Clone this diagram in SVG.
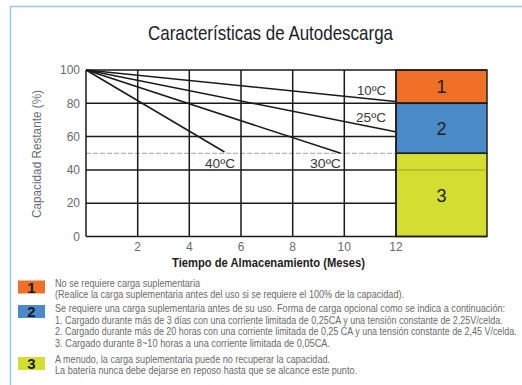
<svg xmlns="http://www.w3.org/2000/svg" width="522" height="385" viewBox="0 0 522 385">
<style>
.t{font-family:"Liberation Sans Narrow","Liberation Sans",Arial,sans-serif}
.n{font-family:"Liberation Sans",Arial,sans-serif}
.tick{font-size:12px;fill:#666a72}
.grid{stroke:#1a1a1a;stroke-width:1.5;fill:none}
.curve{stroke:#1a1a1a;stroke-width:1.5;fill:none}
.temp{font-size:13px;fill:#3a3a3a}
.leg{font-size:10.5px;fill:#6a6a6a}
.num{font-size:15px;font-weight:bold;fill:#1a1a1a;text-anchor:middle}
.box{stroke:#222;stroke-width:1.5}
</style>
<rect width="522" height="385" fill="#fff"/>
<rect x="10.5" y="6.5" width="600" height="500" fill="none" stroke="#9cc8ec" stroke-width="1.5"/>
<text id="title" class="t" x="148" y="40" font-size="21" fill="#1c1c2c" textLength="245" lengthAdjust="spacingAndGlyphs">Características de Autodescarga</text>

<g id="zones">
<g id="zone1"><rect class="box" x="396" y="70" width="91" height="33.3" fill="#F07028"/><text class="n" x="441.5" y="93" font-size="18" fill="#222" text-anchor="middle">1</text></g>
<g id="zone2"><rect class="box" x="396" y="103.3" width="91" height="50" fill="#4A8AC8"/><text class="n" x="441.5" y="135" font-size="18" fill="#222" text-anchor="middle">2</text></g>
<g id="zone3"><rect class="box" x="396" y="153.3" width="91" height="83.2" fill="#D4DE32"/><line x1="396" y1="169.9" x2="487" y2="169.9" stroke="#8a9020" stroke-width="1.5" opacity="0.5"/><text class="n" x="441.5" y="201.5" font-size="18" fill="#222" text-anchor="middle">3</text></g>
</g>

<g id="axes">
<line x1="86" y1="153.3" x2="396" y2="153.3" stroke="#b4b4b4" stroke-width="1.2" stroke-dasharray="5 2"/>
<path class="grid" d="M86,70V236.5M137.7,70V236.5M189.3,70V236.5M241,70V236.5M292.7,70V236.5M344.3,70V236.5M396,70V236.5M86,70H487M86,103.3H487M86,136.6H396M86,169.9H396M86,203.2H396M86,236.5H487"/>
<g class="n tick" text-anchor="end">
<text x="80" y="74">100</text>
<text x="80" y="107.5">80</text>
<text x="80" y="140.8">60</text>
<text x="80" y="174.1">40</text>
<text x="80" y="207.4">20</text>
<text x="80" y="240.7">0</text>
</g>
<g class="n tick" text-anchor="middle">
<text x="137.7" y="250.5">2</text>
<text x="189.3" y="250.5">4</text>
<text x="241" y="250.5">6</text>
<text x="292.7" y="250.5">8</text>
<text x="344.3" y="250.5">10</text>
<text x="396" y="250.5">12</text>
</g>
<text class="n" transform="translate(41,154) rotate(-90)" font-size="12.5" fill="#666a72" text-anchor="middle" textLength="128" lengthAdjust="spacingAndGlyphs">Capacidad Restante (%)</text>
<text class="t" x="268.5" y="266.5" font-size="13" font-weight="bold" fill="#222" text-anchor="middle" textLength="193" lengthAdjust="spacingAndGlyphs">Tiempo de Almacenamiento (Meses)</text>
</g>

<g id="connectors">
<path id="c10" class="curve" d="M86,70L395.5,101.5"/>
<path id="c25" class="curve" d="M86,70L395.5,131.7"/>
<path id="c30" class="curve" d="M86,70L340.7,153.3"/>
<path id="c40" class="curve" d="M86,70L224.5,152"/>
</g>
<g id="labels">
<text class="n temp" x="386" y="95" text-anchor="end" textLength="29" lengthAdjust="spacingAndGlyphs">10ºC</text>
<text class="n temp" x="386" y="121.5" text-anchor="end" textLength="30" lengthAdjust="spacingAndGlyphs">25ºC</text>
<text class="n temp" x="310" y="168" textLength="31" lengthAdjust="spacingAndGlyphs">30ºC</text>
<text class="n temp" x="205" y="168" textLength="30" lengthAdjust="spacingAndGlyphs">40ºC</text>
</g>

<g id="legend1">
<rect x="18" y="280.5" width="27" height="13" fill="#F07028"/>
<text class="n num" x="31.5" y="292.5">1</text>
<text class="t leg" x="55" y="286.5" textLength="145" lengthAdjust="spacingAndGlyphs">No se requiere carga suplementaria</text>
<text class="t leg" x="55" y="297.5" textLength="349" lengthAdjust="spacingAndGlyphs">(Realice la carga suplementaria antes del uso si se requiere el 100% de la capacidad).</text>
</g>
<g id="legend2">
<rect x="18" y="305" width="27" height="13" fill="#4A8AC8"/>
<text class="n num" x="31.5" y="317">2</text>
<text class="t leg" transform="translate(55,312) scale(0.78,1)" textLength="577" lengthAdjust="spacingAndGlyphs">Se requiere una carga suplementaria antes de su uso. Forma de carga opcional como se indica a continuación:</text>
<text class="t leg" transform="translate(55,323.5) scale(0.78,1)" textLength="574" lengthAdjust="spacingAndGlyphs">1. Cargado durante más de 3 días con una corriente limitada de 0,25CA y una tensión constante de 2,25V/celda.</text>
<text class="t leg" transform="translate(55,335) scale(0.78,1)" textLength="592" lengthAdjust="spacingAndGlyphs">2. Cargado durante más de 20 horas con una corriente limitada de 0,25 CA y una tensión constante de 2,45 V/celda.</text>
<text class="t leg" x="55" y="346.5" textLength="275" lengthAdjust="spacingAndGlyphs">3. Cargado durante 8~10 horas a una corriente limitada de 0,05CA.</text>
</g>
<g id="legend3">
<rect x="18" y="357" width="27" height="13" fill="#D4DE32"/>
<text class="n num" x="31.5" y="369">3</text>
<text class="t leg" x="55" y="363" textLength="275" lengthAdjust="spacingAndGlyphs">A menudo, la carga suplementaria puede no recuperar la capacidad.</text>
<text class="t leg" x="55" y="374" textLength="302" lengthAdjust="spacingAndGlyphs">La batería nunca debe dejarse en reposo hasta que se alcance este punto.</text>
</g>
</svg>
